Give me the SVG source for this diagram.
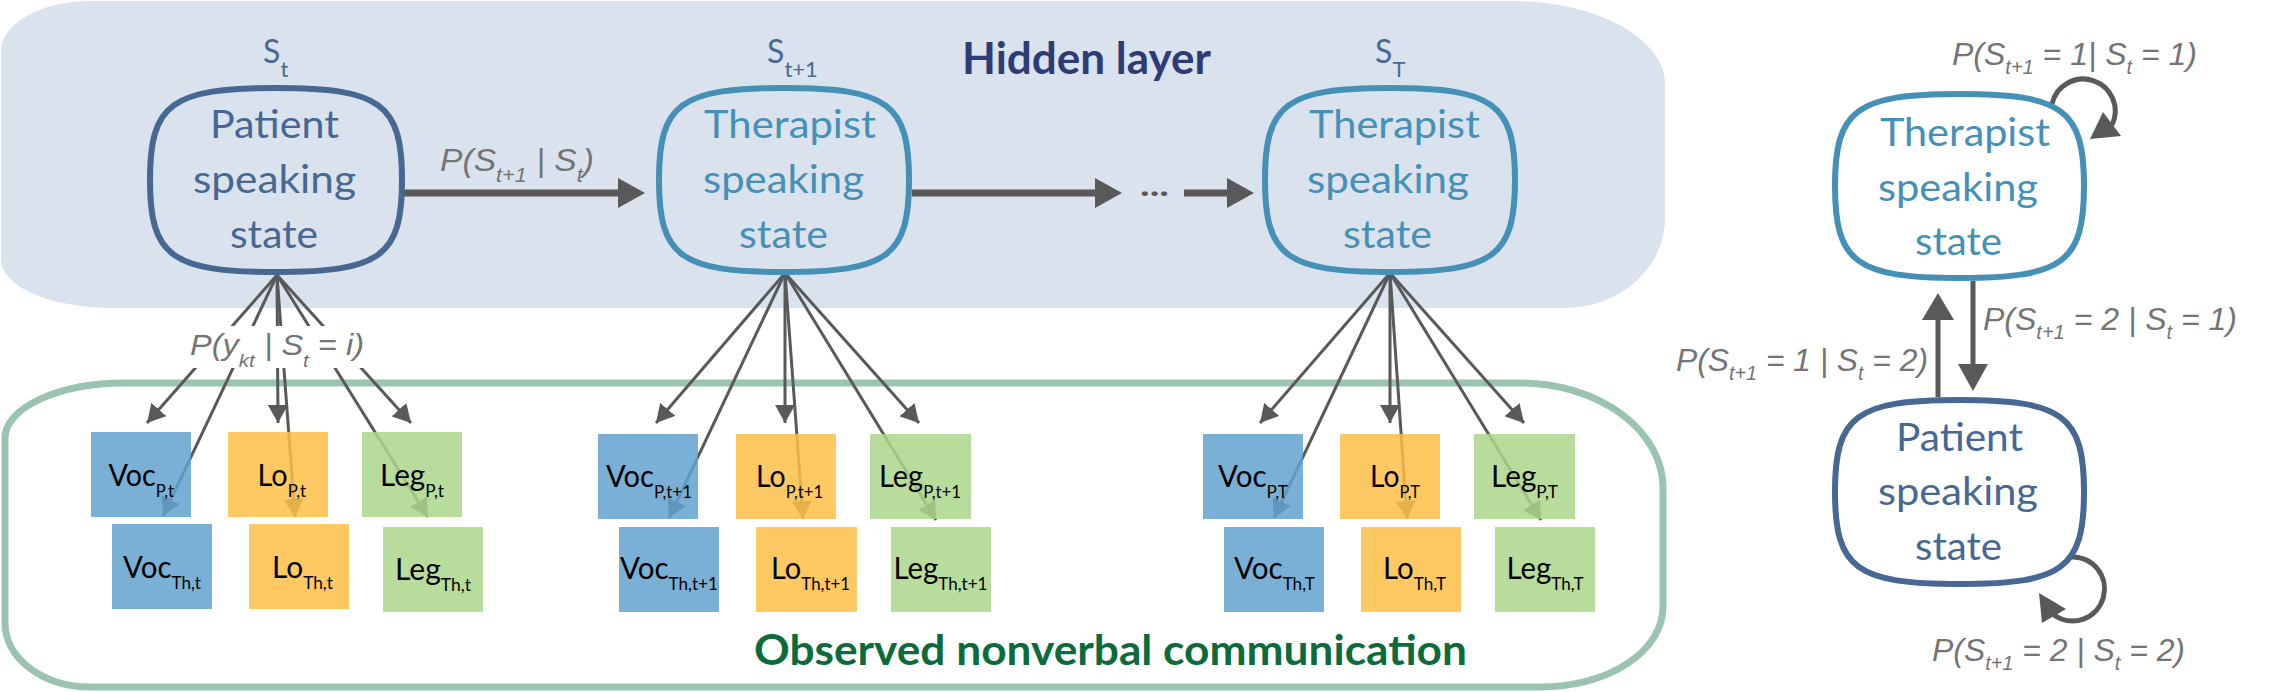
<svg xmlns="http://www.w3.org/2000/svg" width="2276" height="692" viewBox="0 0 2276 692">
<defs>
<style>
.node{font-family:Lato,"Open Sans",sans-serif;font-size:38px}
.pat{fill:#466892}
.ther{fill:#4590b6}
.pbox{fill:none;stroke:#466892;stroke-width:6}
.tbox{fill:none;stroke:#4590b6;stroke-width:6}
.slab{font-family:Lato,sans-serif;font-size:32px;fill:#4a6894}
.prob{font-family:"Liberation Sans",Arial,sans-serif;font-style:italic;fill:#747474}
.obs{font-family:Lato,sans-serif;font-size:31px;fill:#000}
.voc{fill:#63a2cf;fill-opacity:0.85}
.lo{fill:#fec046;fill-opacity:0.85}
.leg{fill:#acd689;fill-opacity:0.85}
.con{stroke:#595959;stroke-width:3;fill:none;marker-end:url(#ah)}
.thick{stroke:#595959;fill:none}
.head{fill:#595959}
</style>
<marker id="ah" markerUnits="userSpaceOnUse" markerWidth="20" markerHeight="20" refX="18" refY="10" orient="auto"><path d="M0,0 L18,10 L0,20 z" fill="#595959"/></marker>
</defs>

<!-- backgrounds -->
<g id="hidden-layer">
<path d="M90,1 H1512 A153 83 0 0 1 1665 84 V218 A100 90 0 0 1 1565 308 H112 A111 48 0 0 1 1 260 V51 A89 50 0 0 1 90 1 Z" fill="#dae3ed"/>
<text x="962" y="74" font-family="Lato,sans-serif" font-weight="bold" font-size="43" fill="#2e3c75" textLength="249" lengthAdjust="spacingAndGlyphs">Hidden layer</text>
</g>
<g id="observed-layer">
<path d="M125,383 H1520 A143 105 0 0 1 1663 488 V607 A122 80 0 0 1 1541 687 H90 A85 64 0 0 1 5 623 V438 A120 55 0 0 1 125 383 Z" fill="none" stroke="#9bc4b0" stroke-width="7"/>
<text x="754" y="665" font-family="Lato,sans-serif" font-weight="bold" font-size="42" fill="#0b6b3a" textLength="713" lengthAdjust="spacingAndGlyphs">Observed nonverbal communication</text>
</g>

<!-- connectors -->
<g id="connectors">
<line class="con" x1="277" y1="275" x2="147" y2="423"/>
<line class="con" x1="277" y1="275" x2="163" y2="516"/>
<line class="con" x1="277" y1="275" x2="278" y2="423"/>
<line class="con" x1="277" y1="275" x2="295" y2="517"/>
<line class="con" x1="277" y1="275" x2="428" y2="517"/>
<line class="con" x1="277" y1="275" x2="411" y2="423"/>

<line class="con" x1="785" y1="273" x2="656" y2="423"/>
<line class="con" x1="785" y1="273" x2="669" y2="518"/>
<line class="con" x1="785" y1="273" x2="785" y2="423"/>
<line class="con" x1="785" y1="273" x2="803" y2="519"/>
<line class="con" x1="785" y1="273" x2="936" y2="520"/>
<line class="con" x1="785" y1="273" x2="919" y2="423"/>

<line class="con" x1="1390" y1="273" x2="1260" y2="423"/>
<line class="con" x1="1390" y1="273" x2="1274" y2="518"/>
<line class="con" x1="1390" y1="273" x2="1390" y2="423"/>
<line class="con" x1="1390" y1="273" x2="1407" y2="519"/>
<line class="con" x1="1390" y1="273" x2="1541" y2="520"/>
<line class="con" x1="1390" y1="273" x2="1524" y2="423"/>

<!-- transitions -->
<line class="thick" stroke-width="7" x1="404" y1="193" x2="619" y2="193"/>
<polygon class="head" points="618,178 645,193 618,208"/>
<line class="thick" stroke-width="7" x1="912" y1="193" x2="1096" y2="193"/>
<polygon class="head" points="1095,178 1122,193 1095,208"/>
<text x="1140" y="196" font-family="Lato,sans-serif" font-weight="bold" font-size="30" fill="#595959" textLength="29" lengthAdjust="spacingAndGlyphs">...</text>
<line class="thick" stroke-width="7" x1="1184" y1="193" x2="1228" y2="193"/>
<polygon class="head" points="1227,178 1254,193 1227,208"/>

<line class="thick" stroke-width="5" x1="1973" y1="281" x2="1973" y2="365"/>
<polygon class="head" points="1958,364 1988,364 1973,391"/>
<line class="thick" stroke-width="5" x1="1938" y1="397" x2="1938" y2="319"/>
<polygon class="head" points="1922,320 1954,320 1938,293"/>
<path class="thick" stroke-width="5" d="M2052,104 A32 32 0 1 1 2112,125"/>
<polygon class="head" points="2103,112 2121,136 2090,139"/>
<path class="thick" stroke-width="5" d="M2070,557 A32 32 0 1 1 2054,615"/>
<polygon class="head" points="2042,623 2066,609 2039,593"/>
</g>

<!-- probability labels -->
<g id="labels">
<text class="prob" x="440" y="171" font-size="31" textLength="154" lengthAdjust="spacingAndGlyphs">P(S<tspan dy="11" font-size="20">t+1</tspan><tspan dy="-11"> | S</tspan><tspan dy="11" font-size="20">t</tspan><tspan dy="-11">)</tspan></text>
<rect x="183" y="326" width="190" height="42" fill="#ffffff"/>
<text class="prob" x="190" y="355" font-size="30" textLength="174" lengthAdjust="spacingAndGlyphs">P(y<tspan dy="12" font-size="19">kt</tspan><tspan dy="-12"> | S</tspan><tspan dy="12" font-size="19">t</tspan><tspan dy="-12"> = i)</tspan></text>
<text class="prob" x="1952" y="65" font-size="32" textLength="245" lengthAdjust="spacingAndGlyphs">P(S<tspan dy="9" font-size="20">t+1</tspan><tspan dy="-9"> = 1| S</tspan><tspan dy="9" font-size="20">t</tspan><tspan dy="-9"> = 1)</tspan></text>
<text class="prob" x="1983" y="330" font-size="32" textLength="254" lengthAdjust="spacingAndGlyphs">P(S<tspan dy="9" font-size="20">t+1</tspan><tspan dy="-9"> = 2 | S</tspan><tspan dy="9" font-size="20">t</tspan><tspan dy="-9"> = 1)</tspan></text>
<text class="prob" x="1676" y="371" font-size="32" textLength="252" lengthAdjust="spacingAndGlyphs">P(S<tspan dy="9" font-size="20">t+1</tspan><tspan dy="-9"> = 1 | S</tspan><tspan dy="9" font-size="20">t</tspan><tspan dy="-9"> = 2)</tspan></text>
<text class="prob" x="1932" y="661" font-size="32" textLength="253" lengthAdjust="spacingAndGlyphs">P(S<tspan dy="9" font-size="20">t+1</tspan><tspan dy="-9"> = 2 | S</tspan><tspan dy="9" font-size="20">t</tspan><tspan dy="-9"> = 2)</tspan></text>
</g>

<!-- hidden state nodes -->
<g id="node-st">
<text class="slab" x="263" y="63">S<tspan dy="14" font-size="22">t</tspan></text>
<path class="pbox" d="M276,88 C380.6,88 402,103.6 402,180 C402,256.4 380.6,272 276,272 C171.4,272 150,256.4 150,180 C150,103.6 171.4,88 276,88 Z"/>
<text class="node pat" x="210" y="138" textLength="129" lengthAdjust="spacingAndGlyphs">Patient</text>
<text class="node pat" x="193" y="193" textLength="163" lengthAdjust="spacingAndGlyphs">speaking</text>
<text class="node pat" x="230" y="248" textLength="88" lengthAdjust="spacingAndGlyphs">state</text>
</g>
<g id="node-st1">
<text class="slab" x="767" y="63">S<tspan dy="14" font-size="22">t+1</tspan></text>
<path class="tbox" d="M784,88 C887.75,88 909,103.6 909,180 C909,256.4 887.75,272 784,272 C680.25,272 659,256.4 659,180 C659,103.6 680.25,88 784,88 Z"/>
<text class="node ther" x="704" y="138" textLength="172" lengthAdjust="spacingAndGlyphs">Therapist</text>
<text class="node ther" x="703" y="193" textLength="161" lengthAdjust="spacingAndGlyphs">speaking</text>
<text class="node ther" x="739" y="248" textLength="89" lengthAdjust="spacingAndGlyphs">state</text>
</g>
<g id="node-sT">
<text class="slab" x="1375" y="63">S<tspan dy="14" font-size="22">T</tspan></text>
<path class="tbox" d="M1390,88 C1493.75,88 1515,103.6 1515,180 C1515,256.4 1493.75,272 1390,272 C1286.25,272 1265,256.4 1265,180 C1265,103.6 1286.25,88 1390,88 Z"/>
<text class="node ther" x="1309" y="138" textLength="171" lengthAdjust="spacingAndGlyphs">Therapist</text>
<text class="node ther" x="1307" y="193" textLength="162" lengthAdjust="spacingAndGlyphs">speaking</text>
<text class="node ther" x="1343" y="248" textLength="89" lengthAdjust="spacingAndGlyphs">state</text>
</g>
<g id="node-right-therapist">
<path class="tbox" d="M1959.5,94 C2062.8,94 2084,109.6 2084,186 C2084,262.4 2062.8,278 1959.5,278 C1856.2,278 1835,262.4 1835,186 C1835,109.6 1856.2,94 1959.5,94 Z"/>
<text class="node ther" x="1880" y="146" textLength="170" lengthAdjust="spacingAndGlyphs">Therapist</text>
<text class="node ther" x="1878" y="201" textLength="160" lengthAdjust="spacingAndGlyphs">speaking</text>
<text class="node ther" x="1915" y="255" textLength="87" lengthAdjust="spacingAndGlyphs">state</text>
</g>
<g id="node-right-patient">
<path class="pbox" d="M1959.5,400 C2062.8,400 2084,415.6 2084,492 C2084,568.4 2062.8,584 1959.5,584 C1856.2,584 1835,568.4 1835,492 C1835,415.6 1856.2,400 1959.5,400 Z"/>
<text class="node pat" x="1896" y="451" textLength="127" lengthAdjust="spacingAndGlyphs">Patient</text>
<text class="node pat" x="1878" y="505" textLength="160" lengthAdjust="spacingAndGlyphs">speaking</text>
<text class="node pat" x="1915" y="560" textLength="87" lengthAdjust="spacingAndGlyphs">state</text>
</g>

<!-- observation boxes, group t -->
<g id="voc-p-t"><rect class="voc" x="91" y="432" width="100" height="85"/><text class="obs" x="108.5" y="486" textLength="65.5" lengthAdjust="spacingAndGlyphs">Voc<tspan dy="11" font-size="18">P,t</tspan></text></g>
<g id="lo-p-t"><rect class="lo" x="228" y="432" width="100" height="85"/><text class="obs" x="257.6" y="486" textLength="48.4" lengthAdjust="spacingAndGlyphs">Lo<tspan dy="11" font-size="18">P,t</tspan></text></g>
<g id="leg-p-t"><rect class="leg" x="362" y="432" width="100" height="85"/><text class="obs" x="380" y="486" textLength="64" lengthAdjust="spacingAndGlyphs">Leg<tspan dy="11" font-size="18">P,t</tspan></text></g>
<g id="voc-th-t"><rect class="voc" x="112" y="524" width="100" height="85"/><text class="obs" x="123" y="578" textLength="78" lengthAdjust="spacingAndGlyphs">Voc<tspan dy="11" font-size="18">Th,t</tspan></text></g>
<g id="lo-th-t"><rect class="lo" x="249" y="524" width="100" height="85"/><text class="obs" x="272" y="578" textLength="61" lengthAdjust="spacingAndGlyphs">Lo<tspan dy="11" font-size="18">Th,t</tspan></text></g>
<g id="leg-th-t"><rect class="leg" x="383" y="527" width="100" height="85"/><text class="obs" x="395" y="580" textLength="76" lengthAdjust="spacingAndGlyphs">Leg<tspan dy="11" font-size="18">Th,t</tspan></text></g>

<!-- group t+1 -->
<g id="voc-p-t1"><rect class="voc" x="598" y="434" width="100" height="85"/><text class="obs" x="606" y="487" textLength="86" lengthAdjust="spacingAndGlyphs">Voc<tspan dy="11" font-size="18">P,t+1</tspan></text></g>
<g id="lo-p-t1"><rect class="lo" x="736" y="434" width="100" height="85"/><text class="obs" x="756" y="487" textLength="67" lengthAdjust="spacingAndGlyphs">Lo<tspan dy="11" font-size="18">P,t+1</tspan></text></g>
<g id="leg-p-t1"><rect class="leg" x="870" y="434" width="101" height="85"/><text class="obs" x="879" y="487" textLength="82" lengthAdjust="spacingAndGlyphs">Leg<tspan dy="11" font-size="18">P,t+1</tspan></text></g>
<g id="voc-th-t1"><rect class="voc" x="619" y="527" width="100" height="85"/><text class="obs" x="620" y="579" textLength="98" lengthAdjust="spacingAndGlyphs">Voc<tspan dy="11" font-size="18">Th,t+1</tspan></text></g>
<g id="lo-th-t1"><rect class="lo" x="756" y="527" width="101" height="85"/><text class="obs" x="771" y="579" textLength="79" lengthAdjust="spacingAndGlyphs">Lo<tspan dy="11" font-size="18">Th,t+1</tspan></text></g>
<g id="leg-th-t1"><rect class="leg" x="891" y="527" width="100" height="85"/><text class="obs" x="893.5" y="579" textLength="94" lengthAdjust="spacingAndGlyphs">Leg<tspan dy="11" font-size="18">Th,t+1</tspan></text></g>

<!-- group T -->
<g id="voc-p-T"><rect class="voc" x="1203" y="434" width="100" height="85"/><text class="obs" x="1218" y="487" textLength="70" lengthAdjust="spacingAndGlyphs">Voc<tspan dy="11" font-size="18">P,T</tspan></text></g>
<g id="lo-p-T"><rect class="lo" x="1340" y="434" width="100" height="85"/><text class="obs" x="1370" y="487" textLength="50" lengthAdjust="spacingAndGlyphs">Lo<tspan dy="11" font-size="18">P,T</tspan></text></g>
<g id="leg-p-T"><rect class="leg" x="1474" y="434" width="101" height="85"/><text class="obs" x="1491" y="487" textLength="67" lengthAdjust="spacingAndGlyphs">Leg<tspan dy="11" font-size="18">P,T</tspan></text></g>
<g id="voc-th-T"><rect class="voc" x="1224" y="527" width="100" height="85"/><text class="obs" x="1234" y="579" textLength="81" lengthAdjust="spacingAndGlyphs">Voc<tspan dy="11" font-size="18">Th,T</tspan></text></g>
<g id="lo-th-T"><rect class="lo" x="1361" y="527" width="100" height="85"/><text class="obs" x="1383" y="579" textLength="63" lengthAdjust="spacingAndGlyphs">Lo<tspan dy="11" font-size="18">Th,T</tspan></text></g>
<g id="leg-th-T"><rect class="leg" x="1495" y="527" width="100" height="85"/><text class="obs" x="1506.5" y="579" textLength="77" lengthAdjust="spacingAndGlyphs">Leg<tspan dy="11" font-size="18">Th,T</tspan></text></g>
</svg>
